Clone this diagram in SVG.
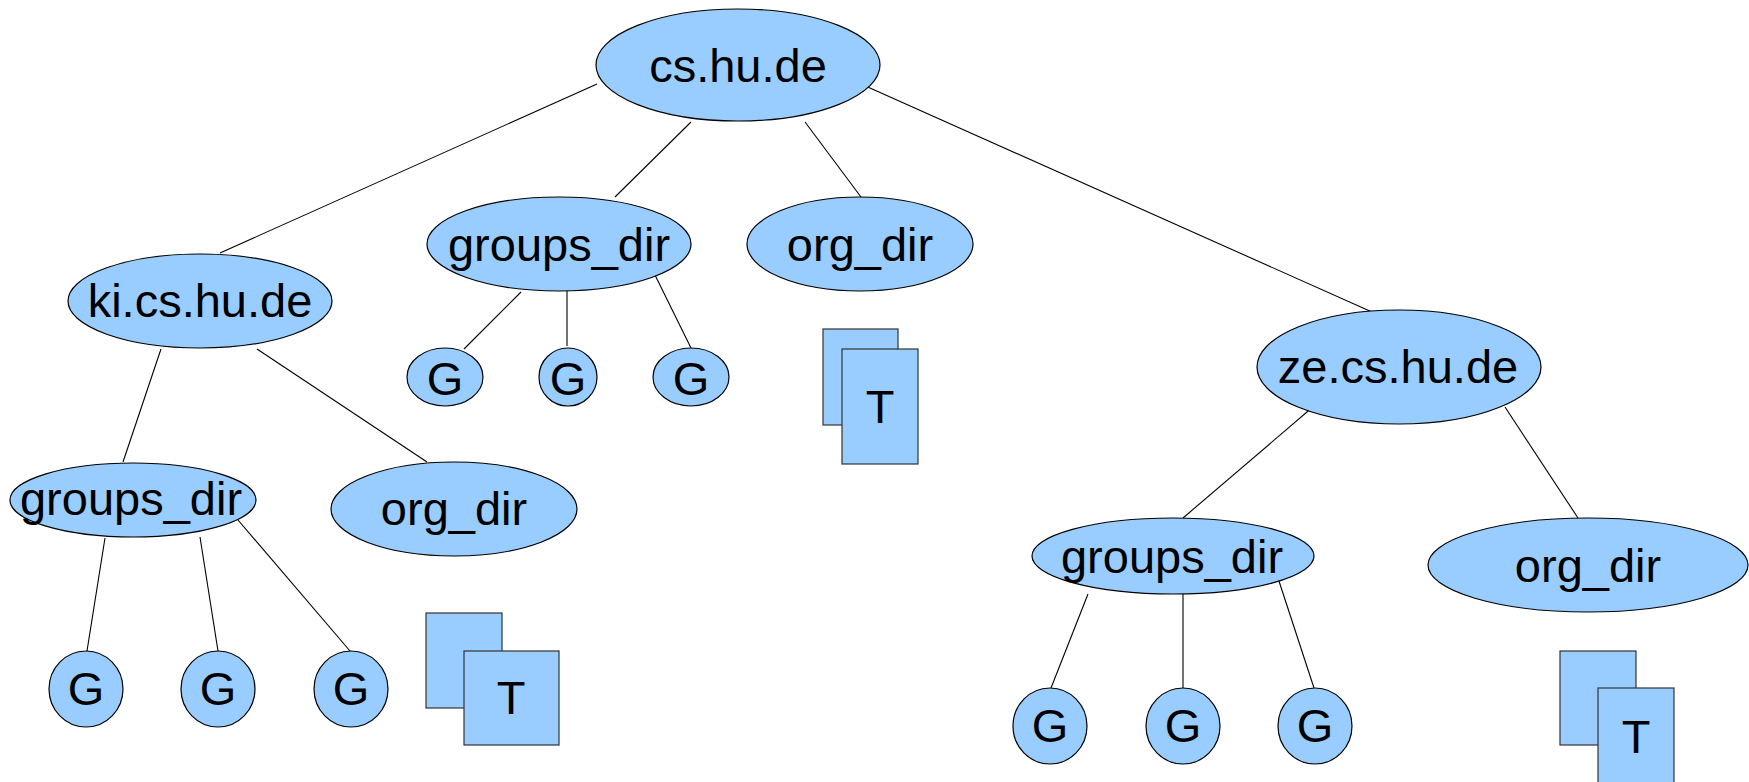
<svg xmlns="http://www.w3.org/2000/svg" width="1749" height="782" viewBox="0 0 1749 782">
<style>
.n{fill:#99ccff;stroke:#000;stroke-width:1.2}
.r{fill:#99ccff;stroke:#333;stroke-width:1.2}
.t{font-family:"Liberation Sans",Arial,sans-serif;font-size:47px;fill:#000;text-anchor:middle}
#connectors line{stroke:#000;stroke-width:1.1}
</style>
<rect width="1749" height="782" fill="#fff"/>
<g id="connectors">
<line x1="597" y1="84" x2="220" y2="253"/>
<line x1="691" y1="122" x2="615" y2="197"/>
<line x1="805" y1="122" x2="861" y2="197"/>
<line x1="861" y1="84" x2="1372" y2="312"/>
<line x1="521" y1="292" x2="464" y2="349"/>
<line x1="567" y1="289" x2="567" y2="346"/>
<line x1="654" y1="273" x2="691" y2="348"/>
<line x1="161" y1="349" x2="123" y2="462"/>
<line x1="257" y1="349" x2="427" y2="462"/>
<line x1="105" y1="538" x2="87" y2="651"/>
<line x1="200" y1="537" x2="218" y2="651"/>
<line x1="238" y1="520" x2="350" y2="651"/>
<line x1="1314" y1="406" x2="1183" y2="518"/>
<line x1="1505" y1="407" x2="1578" y2="518"/>
<line x1="1088" y1="594" x2="1051" y2="688"/>
<line x1="1183" y1="594" x2="1183" y2="688"/>
<line x1="1277" y1="575" x2="1314" y2="688"/>
</g>
<g id="cs"><ellipse class="n" cx="738" cy="65" rx="142" ry="56"/><text class="t" x="738" y="82">cs.hu.de</text></g>
<g id="ki"><ellipse class="n" cx="200" cy="301" rx="132" ry="47"/><text class="t" x="200" y="317">ki.cs.hu.de</text></g>
<g id="groups_top"><ellipse class="n" cx="559" cy="244" rx="132" ry="47"/><text class="t" x="559" y="261">groups_dir</text></g>
<g id="org_top"><ellipse class="n" cx="860" cy="244" rx="113" ry="47"/><text class="t" x="860" y="261">org_dir</text></g>
<g id="ze"><ellipse class="n" cx="1399" cy="367" rx="142" ry="57"/><text class="t" x="1398" y="383">ze.cs.hu.de</text></g>
<g id="groups_ki"><ellipse class="n" cx="133" cy="500" rx="123" ry="37"/><text class="t" x="131" y="515">groups_dir</text></g>
<g id="org_ki"><ellipse class="n" cx="454" cy="509" rx="123" ry="47"/><text class="t" x="454" y="525">org_dir</text></g>
<g id="groups_ze"><ellipse class="n" cx="1173" cy="556" rx="141" ry="38"/><text class="t" x="1172" y="573">groups_dir</text></g>
<g id="org_ze"><ellipse class="n" cx="1588" cy="565" rx="160" ry="47"/><text class="t" x="1588" y="582">org_dir</text></g>
<g id="g_top1"><ellipse class="n" cx="445" cy="377" rx="38" ry="29"/><text class="t" x="445" y="395">G</text></g>
<g id="g_top2"><ellipse class="n" cx="568" cy="377" rx="29" ry="29"/><text class="t" x="568" y="395">G</text></g>
<g id="g_top3"><ellipse class="n" cx="691" cy="377" rx="38" ry="29"/><text class="t" x="691" y="395">G</text></g>
<g id="g_ki1"><ellipse class="n" cx="86" cy="689" rx="37" ry="38"/><text class="t" x="86" y="705">G</text></g>
<g id="g_ki2"><ellipse class="n" cx="218" cy="689" rx="37" ry="38"/><text class="t" x="218" y="705">G</text></g>
<g id="g_ki3"><ellipse class="n" cx="351" cy="689" rx="37" ry="38"/><text class="t" x="351" y="705">G</text></g>
<g id="g_ze1"><ellipse class="n" cx="1050" cy="726" rx="37" ry="38"/><text class="t" x="1050" y="742">G</text></g>
<g id="g_ze2"><ellipse class="n" cx="1183" cy="726" rx="37" ry="38"/><text class="t" x="1183" y="742">G</text></g>
<g id="g_ze3"><ellipse class="n" cx="1315" cy="726" rx="37" ry="38"/><text class="t" x="1315" y="742">G</text></g>
<g id="t_top"><rect class="r" x="823" y="329" width="75" height="96"/><rect class="r" x="842" y="349" width="76" height="115"/><text class="t" x="880" y="423">T</text></g>
<g id="t_ki"><rect class="r" x="426" y="613" width="76" height="95"/><rect class="r" x="464" y="651" width="95" height="94"/><text class="t" x="511" y="714">T</text></g>
<g id="t_ze"><rect class="r" x="1560" y="651" width="76" height="94"/><rect class="r" x="1598" y="688" width="76" height="100"/><text class="t" x="1636" y="753">T</text></g>
</svg>
